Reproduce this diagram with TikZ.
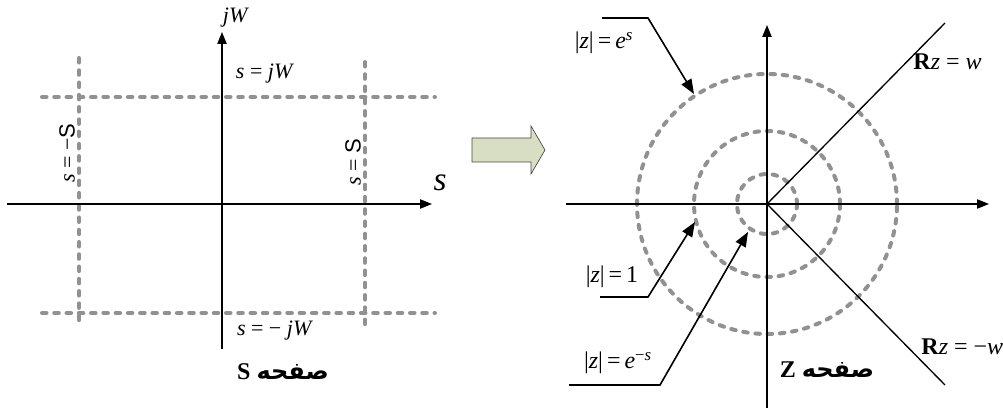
\documentclass[tikz,border=0pt]{standalone}
\usepackage{fontspec}
\setmainfont{Liberation Serif}
\newfontfamily\arabicfont[Script=Arabic]{DejaVu Sans}
\newfontfamily\sansS{Liberation Sans}
\TeXXeTstate=1
\usetikzlibrary{arrows.meta}
\definecolor{dashgray}{RGB}{145,145,145}
\definecolor{blockfill}{RGB}{216,222,196}
\definecolor{blockline}{RGB}{70,70,60}
\begin{document}
\begin{tikzpicture}[x=0.75pt,y=-0.75pt,
  axis/.style={line width=0.9pt,-{Triangle[length=9pt,width=7pt]}},
  gridline/.style={draw=dashgray,line width=3pt,line cap=round,dash pattern=on 3.4pt off 5.8pt},
  lbl/.style={font=\fontsize{16.5}{19}\selectfont,inner sep=0pt},
  zlbl/.style={font=\fontsize{18}{21}\selectfont,inner sep=0pt},
  title/.style={font=\fontsize{18}{21}\selectfont\bfseries,inner sep=0pt},
  leader/.style={line width=1.2pt,-{Triangle[length=11pt,width=8.5pt]}},
  ray/.style={line width=1pt}]
\useasboundingbox (0,0) rectangle (1003,409);

% ---------- S plane ----------
\coordinate (sxl) at (7,204);
\coordinate (sxr) at (432,204);
\coordinate (syb) at (222,349);
\coordinate (syt) at (222,32);
\draw[gridline] (79,58) -- (79,326);
\draw[gridline] (365,62) -- (365,331);
\draw[gridline] (42,97) -- (435,97);
\draw[gridline] (42,313) -- (435,313);
\draw[axis] (sxl) -- (sxr);
\draw[axis] (syb) -- (syt);
\node[lbl] (jw) at (236,18) {\textit{jW}};
\node[lbl] (sjw) at (265,74) {\textit{s} = \textit{jW}};
\node[lbl] (smjw) at (275,331) {\textit{s} = − \textit{jW}};
\node[lbl,rotate=90] (smS) at (67,153) {\textit{s} = −{\sansS S}};
\node[lbl,rotate=90] (sS) at (353,162) {\textit{s} = {\sansS S}};
\node[inner sep=0pt,font=\fontsize{25}{28}\selectfont] (saxis) at (440,183) {\textit{s}};
\node[title] (stitle) at (283,372) {S {\arabicfont\beginR صفحه\endR}};

% ---------- block arrow ----------
\filldraw[fill=blockfill,draw=blockline,line width=0.5pt]
  (472,138) -- (531,138) -- (531,126) -- (545,150) -- (531,174) -- (531,162) -- (472,162) -- cycle;

% ---------- Z plane ----------
\coordinate (o) at (767,204);
\coordinate (zxl) at (566,204);
\coordinate (zxr) at (989,204);
\coordinate (zyb) at (767,408);
\coordinate (zyt) at (767,25);
\coordinate (rtop) at (945,23);
\coordinate (rbot) at (945,385);
\draw[gridline] (o) circle [radius=97.5pt];
\draw[gridline] (o) circle [radius=54.75pt];
\draw[gridline] (o) circle [radius=22.5pt];
\draw[axis] (zxl) -- (zxr);
\draw[axis] (zyb) -- (zyt);
\draw[ray] (o) -- (rtop);
\draw[ray] (o) -- (rbot);
\node[zlbl,anchor=west] (rzw) at (913,62) {\textbf{R}\textit{z} = \textit{w}};
\node[zlbl,anchor=west] (rzmw) at (921,347) {\textbf{R}\textit{z} = −\textit{w}};
\node[title] (ztitle) at (827,370) {Z {\arabicfont\beginR صفحه\endR}};

% labels with leaders
\node[zlbl] (les) at (604,43) {|\textit{z}|\,=\,\textit{e}\textsuperscript{\textit{s}}};
\node[zlbl] (lone) at (612,277) {|\textit{z}|\,=\,1};
\node[zlbl] (lems) at (618,363) {|\textit{z}|\,=\,\textit{e}\textsuperscript{−\textit{s}}};
\coordinate (a1) at (602,18);
\coordinate (a2) at (648,18);
\coordinate (a3) at (694,94);
\coordinate (b1) at (600,297);
\coordinate (b2) at (648,297);
\coordinate (b3) at (695,222);
\coordinate (c1) at (569,385);
\coordinate (c2) at (660,385);
\coordinate (c3) at (748,232);
\draw[leader] (a1) -- (a2) -- (a3);
\draw[leader] (b1) -- (b2) -- (b3);
\draw[leader] (c1) -- (c2) -- (c3);
\end{tikzpicture}
\end{document}
